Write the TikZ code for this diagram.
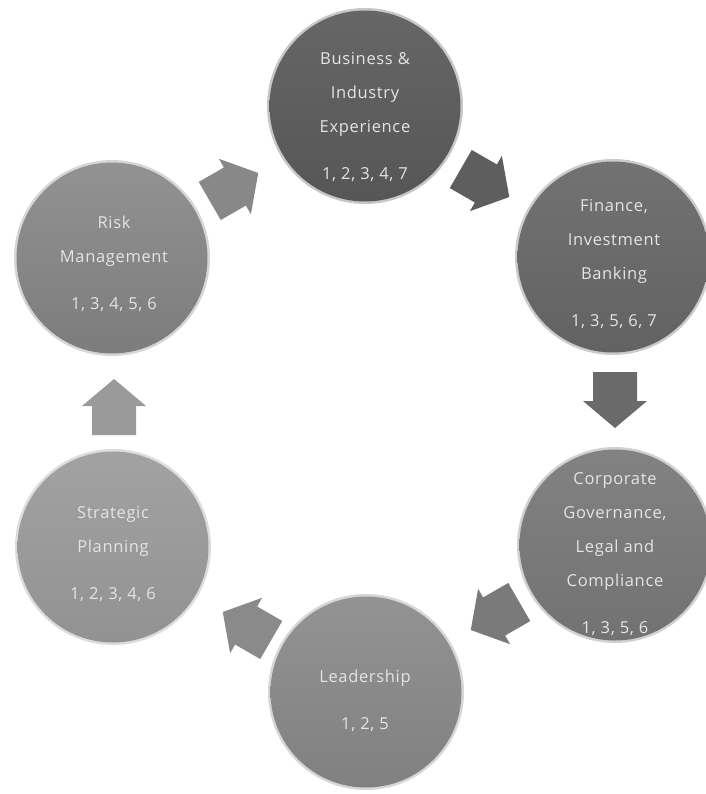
\documentclass[tikz,border=0pt]{standalone}
\usepackage{fontspec}
\setmainfont{Open Sans}[LetterSpace=4]
\definecolor{txt}{HTML}{E4E4E4}
\definecolor{cA}{HTML}{5E5E5E}\definecolor{cAt}{HTML}{666666}\definecolor{cAb}{HTML}{565656}
\definecolor{cB}{HTML}{6A6A6A}\definecolor{cBt}{HTML}{727272}\definecolor{cBb}{HTML}{626262}
\definecolor{cC}{HTML}{7A7A7A}\definecolor{cCt}{HTML}{828282}\definecolor{cCb}{HTML}{727272}
\definecolor{cD}{HTML}{8A8A8A}\definecolor{cDt}{HTML}{939393}\definecolor{cDb}{HTML}{808080}
\definecolor{cE}{HTML}{9A9A9A}\definecolor{cEt}{HTML}{A2A2A2}\definecolor{cEb}{HTML}{929292}
\definecolor{cF}{HTML}{888888}\definecolor{cFt}{HTML}{929292}\definecolor{cFb}{HTML}{7C7C7C}
\begin{document}
\begin{tikzpicture}[x=1pt,y=-1pt,
  bubble/.style 2 args={circle, minimum size=191pt, inner sep=0pt, top color=#1, bottom color=#2},
  fuzz/.style={fill=#1, opacity=0.35},
  label/.style={align=center, text=txt, font=\fontsize{16.5}{34}\selectfont, inner sep=0pt},
  blockarrow/.style={fill=#1}
]
\useasboundingbox (0,0) rectangle (705,794);
% centres
\coordinate (p1) at (365,106);
\coordinate (p2) at (613,257);
\coordinate (p3) at (615,545);
\coordinate (p4) at (366,692);
\coordinate (p5) at (113,547);
\coordinate (p6) at (112,258);
% soft edges
\fill[fuzz=cA] (p1) circle (98);
\fill[fuzz=cB] (p2) circle (98);
\fill[fuzz=cC] (p3) circle (98);
\fill[fuzz=cD] (p4) circle (98);
\fill[fuzz=cE] (p5) circle (98);
\fill[fuzz=cF] (p6) circle (98);
% circles
\node[bubble={cAt}{cAb}] (c1) at (p1) {};
\node[bubble={cBt}{cBb}] (c2) at (p2) {};
\node[bubble={cCt}{cCb}] (c3) at (p3) {};
\node[bubble={cDt}{cDb}] (c4) at (p4) {};
\node[bubble={cEt}{cEb}] (c5) at (p5) {};
\node[bubble={cFt}{cFb}] (c6) at (p6) {};
% texts
\node[label] (t1) at (365,117) {Business \&\\Industry\\Experience\\[13pt]1, 2, 3, 4, 7};
\node[label] (t2) at (614,264) {Finance,\\Investment\\Banking\\[13pt]1, 3, 5, 6, 7};
\node[label] (t3) at (615,554) {Corporate\\Governance,\\Legal and\\Compliance\\[13pt]1, 3, 5, 6};
\node[label] (t4) at (365,701) {Leadership\\[13pt]1, 2, 5};
\node[label] (t5) at (113,554) {Strategic\\Planning\\[13pt]1, 2, 3, 4, 6};
\node[label] (t6) at (114,264) {Risk\\Management\\[13pt]1, 3, 4, 5, 6};
% arrows (block arrows between circles)
\coordinate (a1) at (485,183);
\coordinate (a2) at (615,400);
\coordinate (a3) at (495,616);
\coordinate (a4) at (247,626);
\coordinate (a5) at (114,407);
\coordinate (a6) at (234,187);
\def\arrowshape{(-28,-22) -- (1,-22) -- (1,-32) -- (28,0) -- (1,32) -- (1,22) -- (-28,22) -- cycle}
\fill[blockarrow=cA, shift={(a1)}, rotate=-30] \arrowshape;
\fill[blockarrow=cB, shift={(a2)}, rotate=-90] \arrowshape;
\fill[blockarrow=cC, shift={(a3)}, rotate=-150] \arrowshape;
\fill[blockarrow=cD, shift={(a4)}, rotate=150] \arrowshape;
\fill[blockarrow=cE, shift={(a5)}, rotate=90] \arrowshape;
\fill[blockarrow=cF, shift={(a6)}, rotate=30] \arrowshape;
\end{tikzpicture}
\end{document}
